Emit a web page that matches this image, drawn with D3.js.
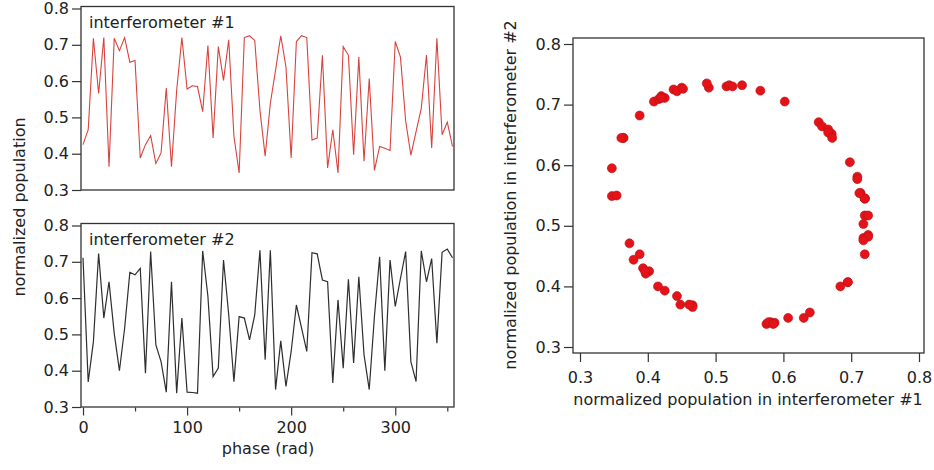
<!DOCTYPE html>
<html>
<head>
<meta charset="utf-8">
<script src="https://cdn.jsdelivr.net/npm/d3@7"></script>
<style>
    body { margin: 0; background: #fff; }
    text { font-family: "DejaVu Sans", sans-serif; fill: #222; }
</style>
</head>
<body>
<div id="chart"></div>
<script>
// phase steps (rad) shared by both traces
const phase = [0, 5, 10, 15, 20, 25, 30, 35, 40, 45, 50, 55, 60, 65, 70, 75, 80, 85,
    90, 95, 100, 105, 110, 115, 120, 125, 130, 135, 140, 145, 150, 155, 160, 165, 170, 175,
    180, 185, 190, 195, 200, 205, 210, 215, 220, 225, 230, 235, 240, 245, 250, 255, 260, 265,
    270, 275, 280, 285, 290, 295, 300, 305, 310, 315, 320, 325, 330, 335, 340, 345, 350, 355];

// interferometer #1
const pop1 = [0.425, 0.466, 0.718, 0.566, 0.72, 0.364, 0.718, 0.684, 0.72, 0.652, 0.657, 0.388,
    0.425, 0.45, 0.373, 0.402, 0.581, 0.364, 0.575, 0.72, 0.578, 0.587, 0.585, 0.516,
    0.698, 0.443, 0.695, 0.602, 0.714, 0.448, 0.347, 0.72, 0.725, 0.712, 0.52, 0.393,
    0.539, 0.63, 0.725, 0.639, 0.388, 0.709, 0.725, 0.72, 0.438, 0.443, 0.671, 0.361,
    0.466, 0.347, 0.695, 0.671, 0.397, 0.666, 0.379, 0.607, 0.354, 0.42, 0.415, 0.409,
    0.709, 0.666, 0.49, 0.396, 0.461, 0.525, 0.672, 0.416, 0.718, 0.452, 0.487, 0.42];

// interferometer #2
const pop2 = [0.711, 0.369, 0.48, 0.723, 0.545, 0.645, 0.503, 0.40, 0.517, 0.671, 0.664, 0.682,
    0.393, 0.728, 0.471, 0.425, 0.341, 0.645, 0.338, 0.545, 0.341, 0.34, 0.338, 0.73,
    0.605, 0.384, 0.407, 0.705, 0.554, 0.37, 0.549, 0.545, 0.485, 0.554, 0.732, 0.43,
    0.732, 0.348, 0.482, 0.357, 0.453, 0.581, 0.517, 0.453, 0.725, 0.722, 0.65, 0.645,
    0.366, 0.595, 0.407, 0.652, 0.421, 0.659, 0.444, 0.348, 0.55, 0.714, 0.40, 0.705,
    0.577, 0.654, 0.728, 0.425, 0.37, 0.73, 0.645, 0.709, 0.476, 0.726, 0.735, 0.711];

const popTicks = [0.3, 0.4, 0.5, 0.6, 0.7, 0.8];
const phaseTicks = [0, 100, 200, 300];
const phaseMinorTicks = [50, 150, 250, 350];

document.addEventListener('DOMContentLoaded', () => {
    const svg = d3.select('#chart')
        .append('svg')
        .attr('width', 934)
        .attr('height', 470);

    const fmt = d3.format('.1f');

    // shared phase scale for the two traces
    const xPhase = d3.scaleLinear().domain([0, 355]).range([83, 452.5]);

    function trace(top, bottom, values, colour, width, title) {
        const y = d3.scaleLinear().domain([0.3, 0.8]).range([bottom, top]);

        svg.append('rect')
            .attr('x', 81).attr('y', top - 2)
            .attr('width', 373).attr('height', bottom - top + 2)
            .attr('fill', 'none')
            .attr('stroke', '#333')
            .attr('stroke-width', 1.3);

        const axis = svg.append('g')
            .attr('transform', 'translate(81,0)')
            .call(d3.axisLeft(y).tickValues(popTicks).tickFormat(fmt).tickSize(9).tickPadding(3));
        axis.select('.domain').remove();
        axis.selectAll('line').attr('stroke', '#333').attr('stroke-width', 1.2);
        axis.selectAll('text').style('font-size', '16px').attr('fill', '#222');

        const line = d3.line()
            .x((d, i) => xPhase(phase[i]))
            .y(d => y(d));

        svg.append('path')
            .datum(values)
            .attr('d', line)
            .attr('fill', 'none')
            .attr('stroke', colour)
            .attr('stroke-width', width)
            .attr('stroke-linejoin', 'miter');

        svg.append('text')
            .attr('x', 89).attr('y', top + 19)
            .style('font-size', '16px')
            .text(title);

        return y;
    }

    trace(8.5, 190, pop1, '#d8433e', 1.1, 'interferometer #1');
    trace(225.5, 407, pop2, '#2e2e2e', 1.2, 'interferometer #2');

    // phase axis under the lower trace
    const xAxis = svg.append('g')
        .attr('transform', 'translate(0,407.5)')
        .call(d3.axisBottom(xPhase).tickValues(phaseTicks).tickSize(8).tickPadding(6));
    xAxis.select('.domain').remove();
    xAxis.selectAll('line').attr('stroke', '#333').attr('stroke-width', 1.2);
    xAxis.selectAll('text').style('font-size', '16px').attr('fill', '#222');

    const xMinor = svg.append('g')
        .attr('transform', 'translate(0,407.5)')
        .call(d3.axisBottom(xPhase).tickValues(phaseMinorTicks).tickSize(4).tickFormat(''));
    xMinor.select('.domain').remove();
    xMinor.selectAll('line').attr('stroke', '#333').attr('stroke-width', 1.2);

    svg.append('text')
        .attr('x', 268).attr('y', 454)
        .attr('text-anchor', 'middle')
        .style('font-size', '16px')
        .text('phase (rad)');

    svg.append('text')
        .attr('transform', 'translate(25,207) rotate(-90)')
        .attr('text-anchor', 'middle')
        .style('font-size', '16px')
        .text('normalized population');

    // scatter of #2 against #1
    const sx = d3.scaleLinear().domain([0.3, 0.8]).range([580, 919]);
    const sy = d3.scaleLinear().domain([0.3, 0.8]).range([347, 44]);

    svg.append('rect')
        .attr('x', 573).attr('y', 38)
        .attr('width', 351).attr('height', 315)
        .attr('fill', 'none')
        .attr('stroke', '#333')
        .attr('stroke-width', 1.3);

    const sxAxis = svg.append('g')
        .attr('transform', 'translate(0,353)')
        .call(d3.axisBottom(sx).tickValues(popTicks).tickFormat(fmt).tickSize(9).tickPadding(10));
    sxAxis.select('.domain').remove();
    sxAxis.selectAll('line').attr('stroke', '#333').attr('stroke-width', 1.2);
    sxAxis.selectAll('text').style('font-size', '16px').attr('fill', '#222');

    const syAxis = svg.append('g')
        .attr('transform', 'translate(573,0)')
        .call(d3.axisLeft(sy).tickValues(popTicks).tickFormat(fmt).tickSize(9).tickPadding(3));
    syAxis.select('.domain').remove();
    syAxis.selectAll('line').attr('stroke', '#333').attr('stroke-width', 1.2);
    syAxis.selectAll('text').style('font-size', '16px').attr('fill', '#222');

    svg.append('g')
        .selectAll('circle')
        .data(pop1)
        .enter()
        .append('circle')
        .attr('cx', d => sx(d))
        .attr('cy', (d, i) => sy(pop2[i]))
        .attr('r', 4.5)
        .attr('fill', '#e5121a')
        .attr('stroke', '#b51210')
        .attr('stroke-width', 0.6);

    svg.append('text')
        .attr('x', 748).attr('y', 405)
        .attr('text-anchor', 'middle')
        .style('font-size', '16px')
        .text('normalized population in interferometer #1');

    svg.append('text')
        .attr('transform', 'translate(516,195) rotate(-90)')
        .attr('text-anchor', 'middle')
        .style('font-size', '16px')
        .text('normalized population in interferometer #2');
});
</script>
</body>
</html>
